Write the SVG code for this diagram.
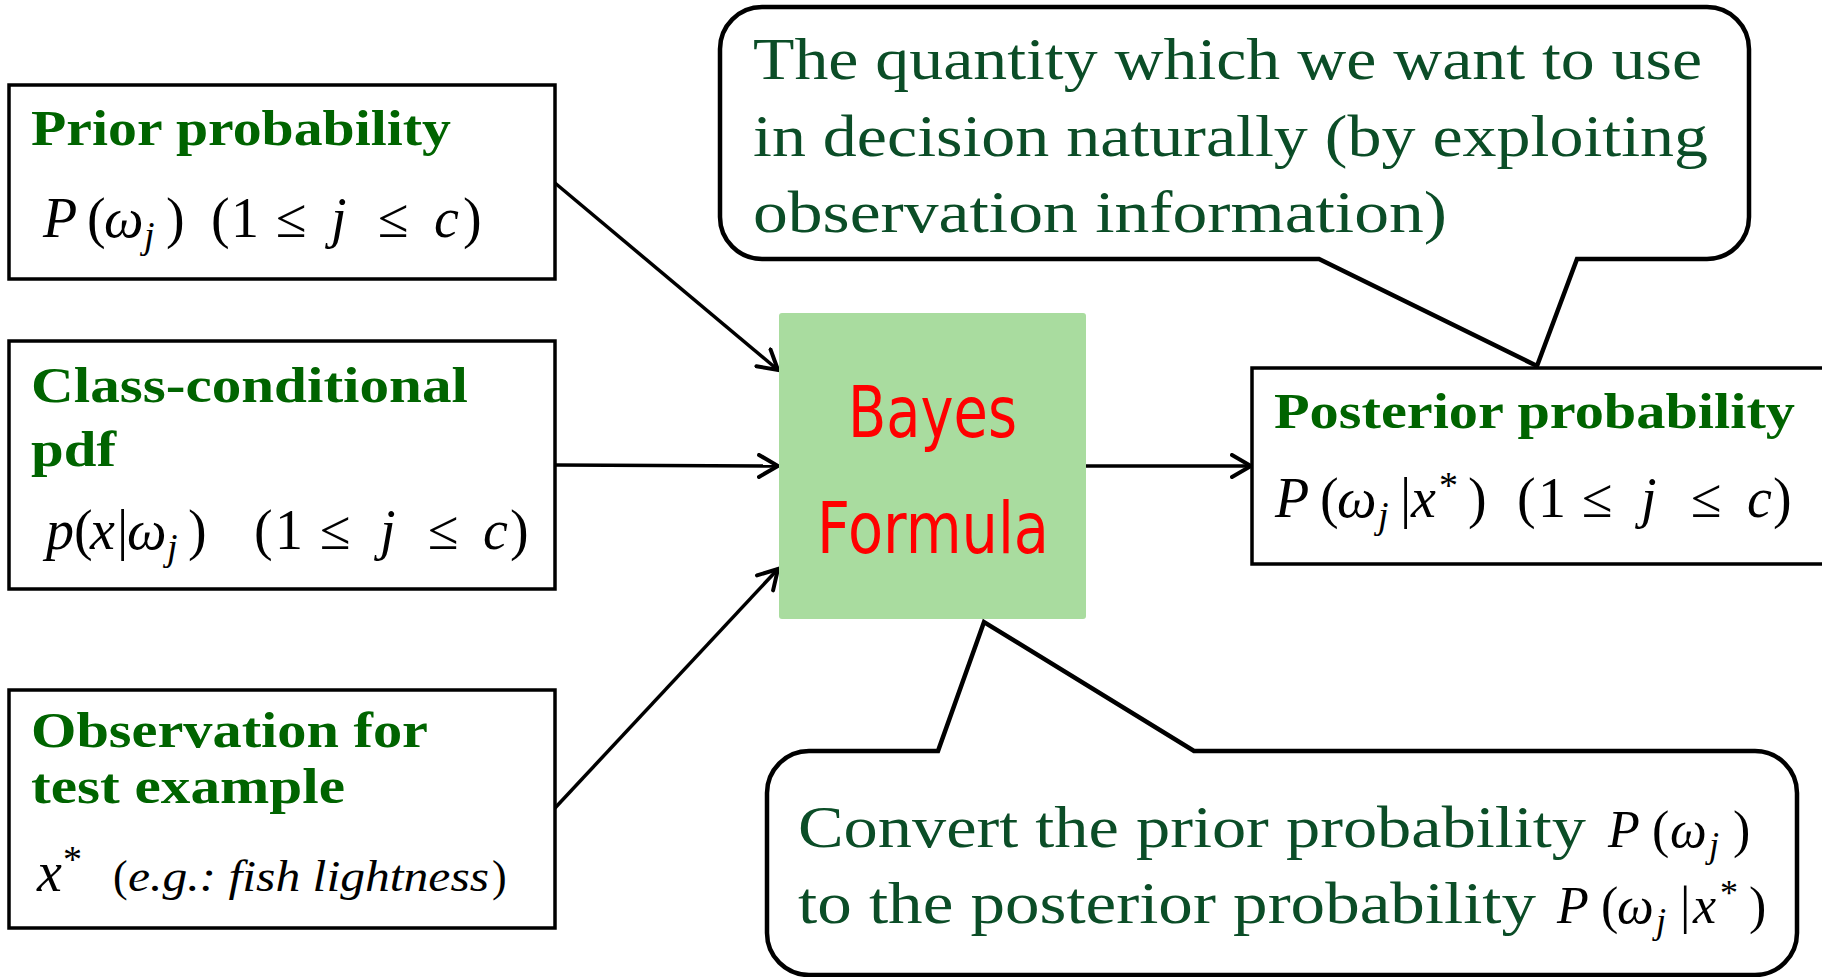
<svg xmlns="http://www.w3.org/2000/svg" width="1822" height="977" viewBox="0 0 1822 977">
<style>
.box{fill:#fff;stroke:#000;stroke-width:3.5}
.call{fill:#fff;stroke:#000;stroke-width:4.5;stroke-linejoin:miter}
.lbl{font-family:"Liberation Serif",serif;font-weight:bold;font-size:50px;fill:#006400}
.ct{font-family:"Liberation Serif",serif;font-size:60px;fill:#0b4d27}
.m{font-family:"Liberation Serif",serif;font-size:56px;fill:#000}
.mc{font-family:"Liberation Serif",serif;font-size:52px;fill:#000}
.i{font-style:italic}
.bay{font-family:"DejaVu Sans",sans-serif;font-size:72px;fill:#ff0000}
.con{stroke:#000;stroke-width:3.5;fill:none}
</style>
<defs>
<marker id="ah" viewBox="0 0 24 26" refX="21" refY="13" markerWidth="24" markerHeight="26" markerUnits="userSpaceOnUse" orient="auto">
<path d="M2,2 L21,13 L2,24" fill="none" stroke="#000" stroke-width="4" stroke-linecap="round" stroke-linejoin="miter"/>
</marker>
</defs>

<g id="connectors">
<line class="con" x1="555" y1="183" x2="778" y2="370" marker-end="url(#ah)"/>
<line class="con" x1="555" y1="465" x2="778" y2="466" marker-end="url(#ah)"/>
<line class="con" x1="555" y1="808" x2="778" y2="569" marker-end="url(#ah)"/>
<line class="con" x1="1086" y1="466" x2="1251" y2="466" stroke-width="4.5" marker-end="url(#ah)"/>
</g>

<g id="prior">
<rect class="box" x="9" y="85" width="546" height="194"/>
<text class="lbl" x="31" y="145" textLength="420" lengthAdjust="spacingAndGlyphs">Prior probability</text>
<text class="m" y="237"><tspan class="i" x="43">P</tspan><tspan x="87">(</tspan><tspan class="i" x="104">ω</tspan><tspan class="i" x="144" y="248" font-size="38">j</tspan><tspan x="166" y="237">)</tspan><tspan x="211">(</tspan><tspan x="231">1</tspan><tspan x="276">≤</tspan><tspan class="i" x="331">j</tspan><tspan x="378">≤</tspan><tspan class="i" x="434">c</tspan><tspan x="463">)</tspan></text>
</g>

<g id="classcond">
<rect class="box" x="9" y="341" width="546" height="248"/>
<text class="lbl" x="31" y="402" textLength="437" lengthAdjust="spacingAndGlyphs">Class-conditional</text>
<text class="lbl" x="31" y="466" textLength="85" lengthAdjust="spacingAndGlyphs">pdf</text>
<text class="m" y="549"><tspan class="i" x="46">p</tspan><tspan x="74">(</tspan><tspan class="i" x="90">x</tspan><tspan x="117">|</tspan><tspan class="i" x="127">ω</tspan><tspan class="i" x="167" y="560" font-size="38">j</tspan><tspan x="188" y="549">)</tspan><tspan x="254">(</tspan><tspan x="275">1</tspan><tspan x="320">≤</tspan><tspan class="i" x="380">j</tspan><tspan x="428">≤</tspan><tspan class="i" x="483">c</tspan><tspan x="510">)</tspan></text>
</g>

<g id="observation">
<rect class="box" x="9" y="690" width="546" height="238"/>
<text class="lbl" x="31" y="747" textLength="397" lengthAdjust="spacingAndGlyphs">Observation for</text>
<text class="lbl" x="31" y="803" textLength="314" lengthAdjust="spacingAndGlyphs">test example</text>
<text class="m" y="891"><tspan class="i" x="37">x</tspan><tspan x="63" y="872" font-size="38">*</tspan></text>
<text font-family="Liberation Serif, serif" font-size="44" x="113" y="891">(</text>
<text font-family="Liberation Serif, serif" font-size="44" font-style="italic" x="128" y="891" textLength="361" lengthAdjust="spacingAndGlyphs">e.g.: fish lightness</text>
<text font-family="Liberation Serif, serif" font-size="44" x="492" y="891">)</text>
</g>

<g id="bayes">
<rect x="779" y="313" width="307" height="306" rx="3" fill="#a9dc9f"/>
<text class="bay" x="848" y="437" textLength="169" lengthAdjust="spacingAndGlyphs">Bayes</text>
<text class="bay" x="817" y="553" textLength="232" lengthAdjust="spacingAndGlyphs">Formula</text>
</g>

<g id="posterior">
<rect class="box" x="1252" y="368" width="600" height="196"/>
<text class="lbl" x="1274" y="428" textLength="521" lengthAdjust="spacingAndGlyphs">Posterior probability</text>
<text class="m" y="517"><tspan class="i" x="1275">P</tspan><tspan x="1320">(</tspan><tspan class="i" x="1337">ω</tspan><tspan class="i" x="1378" y="528" font-size="38">j</tspan><tspan x="1400" y="517">|</tspan><tspan class="i" x="1411">x</tspan><tspan x="1439" y="498" font-size="38">*</tspan><tspan x="1468" y="517">)</tspan><tspan x="1517">(</tspan><tspan x="1538">1</tspan><tspan x="1582">≤</tspan><tspan class="i" x="1641">j</tspan><tspan x="1691">≤</tspan><tspan class="i" x="1747">c</tspan><tspan x="1773">)</tspan></text>
</g>

<g id="callout-top">
<path class="call" d="M762,7 H1707 A42,42 0 0 1 1749,49 V217 A42,42 0 0 1 1707,259 H1577 L1537,366 L1319,259 H762 A42,42 0 0 1 720,217 V49 A42,42 0 0 1 762,7 Z"/>
<text class="ct" x="753" y="79" textLength="949" lengthAdjust="spacingAndGlyphs">The quantity which we want to use</text>
<text class="ct" x="753" y="156" textLength="955" lengthAdjust="spacingAndGlyphs">in decision naturally (by exploiting</text>
<text class="ct" x="753" y="232" textLength="694" lengthAdjust="spacingAndGlyphs">observation information)</text>
</g>

<g id="callout-bottom">
<path class="call" d="M809,751 H938 L984,622 L1194,751 H1755 A42,42 0 0 1 1797,793 V933 A42,42 0 0 1 1755,975 H809 A42,42 0 0 1 767,933 V793 A42,42 0 0 1 809,751 Z"/>
<text class="ct" x="798" y="847" textLength="788" lengthAdjust="spacingAndGlyphs">Convert the prior probability</text>
<text class="ct" x="798" y="923" textLength="738" lengthAdjust="spacingAndGlyphs">to the posterior probability</text>
<text class="mc" y="847"><tspan class="i" x="1608">P</tspan><tspan x="1652">(</tspan><tspan class="i" x="1670">ω</tspan><tspan class="i" x="1709" y="857" font-size="36">j</tspan><tspan x="1733" y="847">)</tspan></text>
<text class="mc" y="923"><tspan class="i" x="1557">P</tspan><tspan x="1601">(</tspan><tspan class="i" x="1617">ω</tspan><tspan class="i" x="1656" y="933" font-size="36">j</tspan><tspan x="1680" y="923">|</tspan><tspan class="i" x="1693">x</tspan><tspan x="1720" y="905" font-size="36">*</tspan><tspan x="1749" y="923">)</tspan></text>
</g>
</svg>
